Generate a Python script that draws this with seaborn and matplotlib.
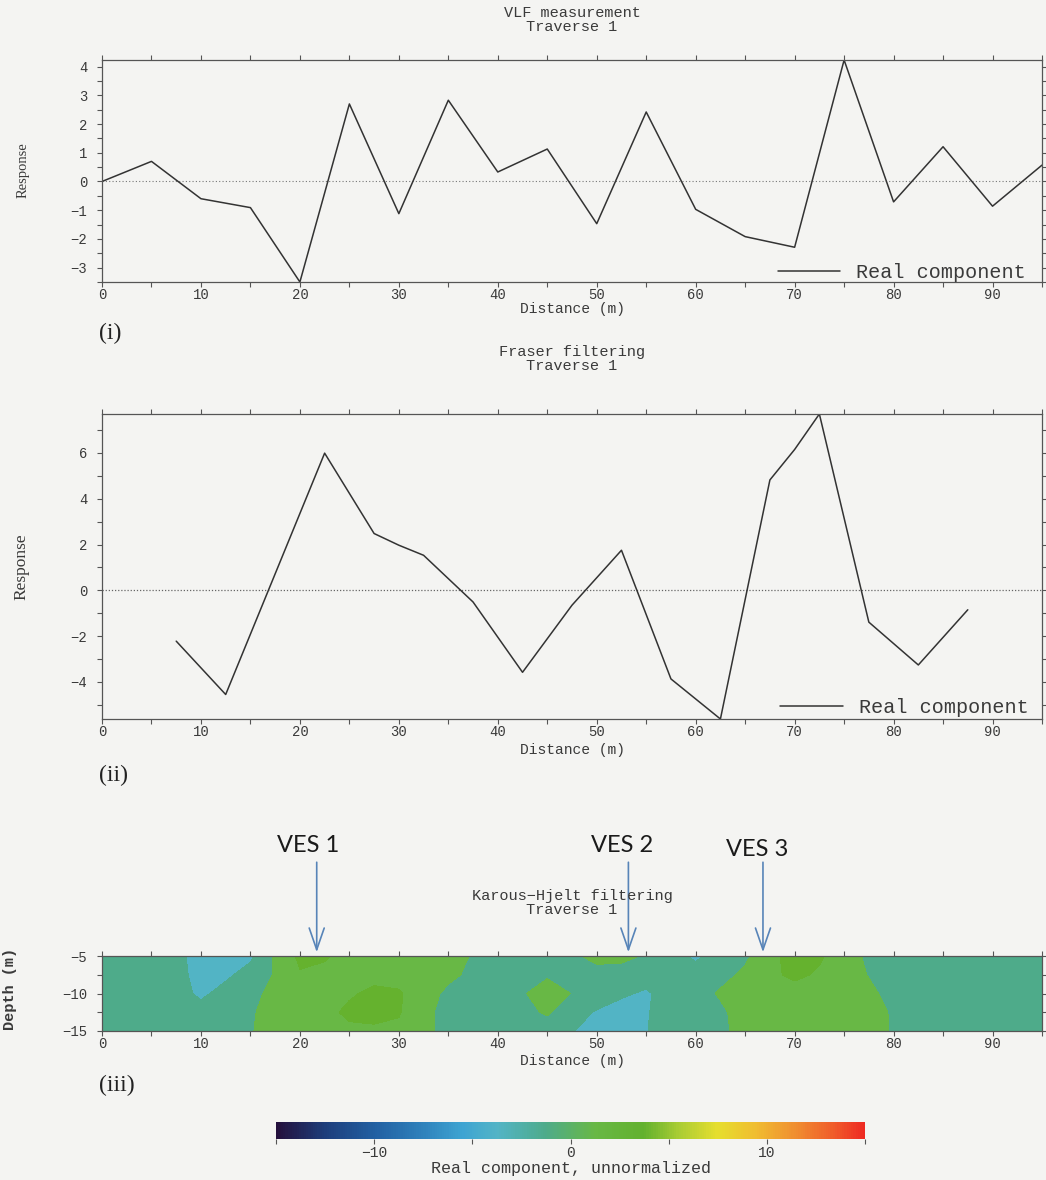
import numpy as np
import matplotlib
matplotlib.use("Agg")
import matplotlib.pyplot as plt
import seaborn as sns
from matplotlib.colors import LinearSegmentedColormap, Normalize
from matplotlib.cm import ScalarMappable

# ---------------- data ----------------
vlf_distance = [0, 5, 10, 15, 20, 25, 30, 35, 40, 45, 50, 55, 60, 65, 70, 75, 80, 85, 90, 95]
vlf_real = [0.0, 0.70, -0.60, -0.91, -3.50, 2.70, -1.12, 2.83, 0.33, 1.13,
            -1.47, 2.42, -0.97, -1.92, -2.29, 4.23, -0.71, 1.21, -0.86, 0.57]

fraser_distance = [7.5, 12.5, 22.5, 27.5, 30, 32.5, 37.5, 42.5, 47.5, 52.5,
                   57.5, 62.5, 67.5, 70, 72.5, 77.5, 82.5, 87.5]
fraser_real = [-2.22, -4.55, 5.99, 2.48, 1.97, 1.53, -0.51, -3.58, -0.65, 1.75,
               -3.87, -5.62, 4.82, 6.15, 7.70, -1.39, -3.26, -0.85]

kh_distance = [0, 2.5, 5, 7.5, 10, 12.5, 15, 17.5, 20, 22.5, 25, 27.5, 30, 32.5, 35,
               37.5, 40, 42.5, 45, 47.5, 50, 52.5, 55, 57.5, 60, 62.5, 65, 67.5, 70,
               72.5, 75, 77.5, 80, 82.5, 85, 87.5, 90, 92.5, 95]
kh_depth = [-5, -7.5, -10, -12.5, -15]
kh_row_5 = [-1.2, -1.2, -1.2, -1.5, -4.0, -4.0, -3.0, 0.3, 3.0, 2.8, 1.5, 1.5, 1.2, 1.2, 1.0,
            -0.2, -1.2, -1.2, -1.2, -0.5, 0.8, 0.8, -0.3, -1.5, -3.0, -1.5, -0.5, 2.0, 3.2,
            2.8, 1.2, -0.5, -1.2, -1.2, -1.2, -1.2, -1.2, -1.2, -1.2]
kh_row_7_5 = [-1.2, -1.2, -1.2, -1.3, -3.8, -3.0, -1.5, 0.2, 2.3, 1.8, 1.3, 1.8, 1.5, 1.0, 0.5,
              -0.5, -1.2, -1.0, -0.4, -1.0, -1.0, -1.3, -1.5, -1.3, -1.3, -0.8, 0.5, 2.0, 3.0,
              2.2, 1.0, -0.1, -1.2, -1.2, -1.2, -1.2, -1.2, -1.2, -1.2]
kh_row_10 = [-1.2, -1.2, -1.2, -1.5, -3.0, -1.6, -0.8, 0.8, 1.3, 1.5, 2.2, 3.0, 2.8, 1.0, -0.5,
             -1.2, -1.2, -0.3, 1.5, -0.1, -1.3, -2.2, -2.8, -1.5, -1.2, 0.3, 1.2, 1.3, 1.5,
             1.3, 1.2, 0.5, -0.8, -1.2, -1.2, -1.2, -1.2, -1.2, -1.2]
kh_row_12_5 = [-1.2, -1.2, -1.2, -1.2, -1.5, -1.3, -0.3, 1.0, 1.2, 1.8, 3.0, 3.2, 2.7, 0.6, -0.8,
               -1.2, -1.2, -0.7, 0.3, -1.5, -2.7, -3.3, -2.7, -1.3, -1.2, -0.5, 1.2, 1.3, 1.3,
               1.3, 1.3, 1.0, -0.3, -1.2, -1.2, -1.2, -1.2, -1.2, -1.2]
kh_row_15 = [-1.2, -1.2, -1.2, -1.2, -1.2, -1.2, -0.2, 1.2, 1.2, 1.5, 2.0, 2.1, 2.0, 0.8, -1.0,
             -1.2, -1.2, -1.2, -1.2, -2.4, -3.5, -3.5, -2.6, -1.3, -1.2, -0.5, 0.8, 1.3, 1.3,
             1.3, 1.3, 1.3, -0.3, -1.2, -1.2, -1.2, -1.2, -1.2, -1.2]

ves_labels = ["VES 1", "VES 2", "VES 3"]
ves_distance = [21.7, 53.2, 66.8]

x_ticks = [0, 5, 10, 15, 20, 25, 30, 35, 40, 45, 50, 55, 60, 65, 70, 75, 80, 85, 90, 95]
x_ticklabels = ["0", "", "10", "", "20", "", "30", "", "40", "", "50", "", "60", "",
                "70", "", "80", "", "90", ""]
vlf_yticks = [-3.5, -3, -2.5, -2, -1.5, -1, -0.5, 0, 0.5, 1, 1.5, 2, 2.5, 3, 3.5, 4]
vlf_yticklabels = ["", "−3", "", "−2", "", "−1", "", "0", "", "1", "", "2", "", "3", "", "4"]
fraser_yticks = [-5, -4, -3, -2, -1, 0, 1, 2, 3, 4, 5, 6, 7]
fraser_yticklabels = ["", "−4", "", "−2", "", "0", "", "2", "", "4", "", "6", ""]
kh_yticks = [-15, -12.5, -10, -7.5, -5]
kh_yticklabels = ["−15", "", "−10", "", "−5"]
cbar_ticks = [-15, -10, -5, 0, 5, 10, 15]
cbar_ticklabels = ["", "−10", "", "0", "", "10", ""]

# ---------------- style ----------------
BG = "#f4f4f2"
INK = "#3a3a3a"
MONO = "Liberation Mono"
SERIF = "Liberation Serif"

sns.set_theme(style="ticks")
plt.rcParams["font.family"] = [MONO, "DejaVu Sans"]
plt.rcParams["axes.unicode_minus"] = True

W, H = 1046, 1180
fig = plt.figure(figsize=(W / 100, H / 100), dpi=100, facecolor=BG)


def box(l, t, r, b):
    return [l / W, 1 - b / H, (r - l) / W, (b - t) / H]


def fy(y):
    return 1 - y / H


def style_axes(ax):
    ax.set_facecolor(BG)
    for s in ax.spines.values():
        s.set_visible(True)
        s.set_color("#555555")
        s.set_linewidth(0.9)
    ax.tick_params(direction="out", length=3.5, width=0.8, color="#555555",
                   top=True, right=True, labeltop=False, labelright=False,
                   labelsize=10, labelcolor=INK, pad=0.5)
    ax.tick_params(axis="y", pad=7)
    ax.set_xlim(0, 95)
    ax.set_xticks(x_ticks)
    ax.set_xticklabels(x_ticklabels, family=MONO)
    ax.set_xlabel("")
    ax.set_ylabel("")


ax1 = fig.add_axes(box(102, 60, 1042, 282))
ax2 = fig.add_axes(box(102, 414, 1042, 719))
ax3 = fig.add_axes(box(102, 956, 1042, 1031))
cax = fig.add_axes(box(276, 1122, 865, 1139))

# ---- panel (i)
ax1.axhline(0, ls=(0, (1, 2)), color="#777777", lw=0.8)
sns.lineplot(x=vlf_distance, y=vlf_real, ax=ax1, color="#333333", lw=1.1,
             label="Real component")
style_axes(ax1)
ax1.set_ylim(min(vlf_real), max(vlf_real))
ax1.set_yticks(vlf_yticks)
ax1.set_yticklabels(vlf_yticklabels, family=MONO)

# ---- panel (ii)
ax2.axhline(0, ls=(0, (1, 1.5)), color="#666666", lw=0.9)
sns.lineplot(x=fraser_distance, y=fraser_real, ax=ax2, color="#333333", lw=1.1,
             label="Real component")
style_axes(ax2)
ax2.set_ylim(min(fraser_real), max(fraser_real))
ax2.set_yticks(fraser_yticks)
ax2.set_yticklabels(fraser_yticklabels, family=MONO)

for ax, anchor in ((ax1, (0.985, -0.0075)), (ax2, (0.988, 0.0))):
    ax.legend(loc="lower right", bbox_to_anchor=anchor, frameon=False,
              handlelength=3.1, handletextpad=0.8, borderaxespad=0.0, borderpad=0.1,
              prop={"family": MONO, "size": 14.5}, labelcolor=INK)

# ---- panel (iii)
anchors = [(-15, "#24103c"), (-12.5, "#1d3e7c"), (-10, "#2260a2"), (-7.5, "#2f82bc"),
           (-5.5, "#3ea4d2"), (-3.75, "#52b4c6"), (-1.25, "#4eab8a"), (1.25, "#68b845"),
           (3.75, "#62b12e"), (5.5, "#a8cc34"), (7.5, "#e6de2e"), (9.5, "#f0bc30"),
           (11.5, "#f08e30"), (13.5, "#f05a2a"), (15, "#ee2a22")]
cmap = LinearSegmentedColormap.from_list("kh", [((v + 15) / 30, c) for v, c in anchors])
norm = Normalize(-15, 15)
Z = np.array([kh_row_5, kh_row_7_5, kh_row_10, kh_row_12_5, kh_row_15])
X, Y = np.meshgrid(kh_distance, kh_depth)
levels = np.arange(-15, 15.01, 2.5)
ax3.contourf(X, Y, Z, levels=levels, cmap=cmap, norm=norm)
style_axes(ax3)
ax3.set_ylim(-15, -5)
ax3.set_yticks(kh_yticks)
ax3.set_yticklabels(kh_yticklabels, family=MONO)

# VES arrows
for lab, xd in zip(ves_labels, ves_distance):
    ax3.annotate("", xy=(xd, 1.05), xycoords=("data", "axes fraction"),
                 xytext=(xd, 2.25), textcoords=("data", "axes fraction"),
                 arrowprops=dict(arrowstyle="->,head_length=1.3,head_width=0.45",
                                 color="#5784b8", lw=1.2, mutation_scale=12,
                                 shrinkA=0, shrinkB=0))
ves_text_x = [308, 622, 757]
ves_text_y = [846, 846, 850]
for lab, tx, ty in zip(ves_labels, ves_text_x, ves_text_y):
    fig.text(tx / W, fy(ty), lab, ha="center", va="center", fontsize=17,
             family="Lato", color="#1a1a1a")

# ---- colorbar
cb = fig.colorbar(ScalarMappable(norm=norm, cmap=cmap), cax=cax, orientation="horizontal")
cb.outline.set_visible(False)
cb.set_ticks(cbar_ticks)
cb.set_ticklabels(cbar_ticklabels)
cax.tick_params(direction="out", length=3.5, width=0.8, color="#555555",
                labelsize=10.5, labelcolor=INK, pad=1.5)
for t in cax.get_xticklabels():
    t.set_family(MONO)

# ---------------- texts ----------------
def title(lines, ys):
    for s, y in zip(lines, ys):
        fig.text(572 / W, fy(y), s, ha="center", va="center", fontsize=11,
                 family=MONO, color=INK)


title(["VLF measurement", "Traverse 1"], [13, 27])
title(["Fraser filtering", "Traverse 1"], [352, 366])
title(["Karous−Hjelt filtering", "Traverse 1"], [896, 910])

for y in (309, 750, 1061):
    fig.text(572 / W, fy(y), "Distance (m)", ha="center", va="center", fontsize=10.5,
             family=MONO, color=INK)

fig.text(23 / W, fy(170), "Response", rotation=90, ha="center", va="center",
         fontsize=10.5, family=SERIF, color=INK)
fig.text(21 / W, fy(567), "Response", rotation=90, ha="center", va="center",
         fontsize=12.5, family=SERIF, color=INK)
fig.text(10 / W, fy(989), "Depth (m)", rotation=90, ha="center", va="center",
         fontsize=11, family=MONO, weight="bold", color=INK)

fig.text(571 / W, fy(1168), "Real component, unnormalized", ha="center", va="center",
         fontsize=12, family=MONO, color=INK)

for lab, y in zip(["(i)", "(ii)", "(iii)"], [333, 775, 1085]):
    fig.text(99 / W, fy(y), lab, ha="left", va="center", fontsize=17,
             family=SERIF, color="#222222")

fig.savefig("out.png", dpi=100, facecolor=BG)
